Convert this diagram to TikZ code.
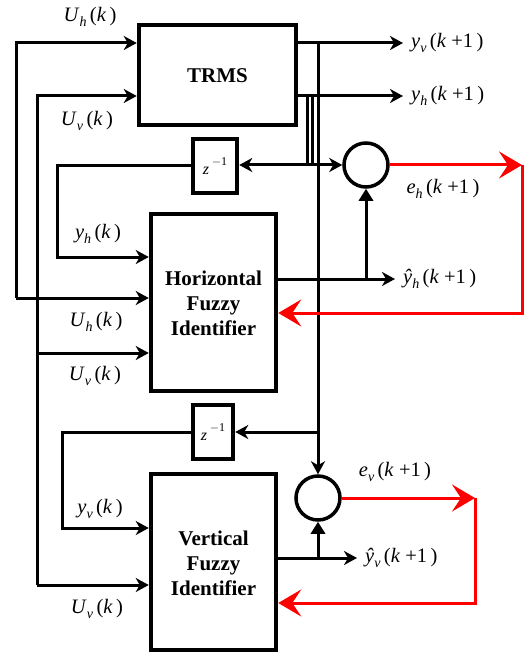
\documentclass[tikz,border=0pt]{standalone}
\usepackage{fontspec}
\setmainfont{Liberation Serif}
\usetikzlibrary{arrows.meta}
\newcommand{\sig}[3]{\textit{#1}\raisebox{-0.45ex}{\fontsize{14}{14}\selectfont\textit{#2}}\,(\textit{k}#3\,)}
\newcommand{\kp}{\ \hbox{+}1}
\begin{document}
\begin{tikzpicture}[x=1pt,y=-1pt,
  blk/.style={draw,line width=4.5pt,fill=white,inner sep=0pt},
  sumc/.style={draw,circle,line width=3.5pt,minimum size=44pt,inner sep=0pt},
  ln/.style={line width=3pt},
  arr/.style={ln,-{Stealth[length=13pt,width=14pt,inset=4pt]}},
  tri/.style={ln,-{Triangle[length=12pt,width=14pt]}},
  rln/.style={line width=3pt,red},
  rarr/.style={rln,-{Stealth[length=23pt,width=27pt,inset=9pt]}},
  lbl/.style={font=\fontsize{20.5}{20.5}\selectfont,inner sep=0pt},
  btxt/.style={font=\fontsize{21}{25}\selectfont\bfseries,align=center}]
\useasboundingbox (0,0) rectangle (531,655);
\fill[white] (0,0) rectangle (531,655);
% blocks
\node[blk,minimum width=157pt,minimum height=100pt] (trms) at (217.5,75) {};
\node[btxt] at (217.5,76) {TRMS};
\node[blk,minimum width=125pt,minimum height=177pt] (hfi) at (213.5,302.5) {};
\node[btxt] at (213.5,303) {Horizontal\\Fuzzy\\Identifier};
\node[blk,minimum width=125pt,minimum height=176pt] (vfi) at (213.5,562) {};
\node[btxt] at (213.5,563) {Vertical\\Fuzzy\\Identifier};
\node[blk,minimum width=44pt,minimum height=54pt] (z1) at (215,166) {\fontsize{16}{16}\selectfont\textit{z}\,\raisebox{1.2ex}{\fontsize{12}{12}\selectfont$-$1}};
\node[blk,minimum width=40pt,minimum height=54pt] (z2) at (213,432) {\fontsize{16}{16}\selectfont\textit{z}\,\raisebox{1.2ex}{\fontsize{12}{12}\selectfont$-$1}};
\node[sumc] (s1) at (366,165) {};
\node[sumc] (s2) at (318,498) {};
% coordinates
\coordinate (uh0) at (16,43);
\coordinate (uh1) at (16,298);
\coordinate (uv0) at (37,96);
\coordinate (uv1) at (37,353);
\coordinate (uv2) at (37,585);
\coordinate (yvo) at (403,43);
\coordinate (yho) at (403,96);
\coordinate (vtop) at (318,43);
\coordinate (vz) at (318,432);
\coordinate (htop) at (307,96);
\coordinate (hz) at (307,165);
\coordinate (yh0) at (57,166);
\coordinate (yh1) at (57,257);
\coordinate (yv0) at (62,432);
\coordinate (yv1) at (62,528);
\coordinate (hho) at (395,279);
\coordinate (hhb) at (366,279);
\coordinate (vho) at (357,558);
\coordinate (vhb) at (318,558);
\coordinate (r1a) at (522,165);
\coordinate (r1b) at (522,313);
\coordinate (r2a) at (475,498);
\coordinate (r2b) at (475,603);
% inputs
\draw[arr] (uh1) -- (uh0) -- (uh0 -| trms.west);
\draw[arr] (uh1) -- (uh1 -| hfi.west);
\draw[arr] (uv2) -- (uv0) -- (uv0 -| trms.west);
\draw[arr] (uv1) -- (uv1 -| hfi.west);
\draw[arr] (uv2) -- (uv2 -| vfi.west);
% outputs
\draw[arr] (yvo -| trms.east) -- (yvo);
\draw[arr] (yho -| trms.east) -- (yho);
\draw[ln] (vtop) -- (vz);
\draw[arr] (vz) -- (s2.north);
\draw[arr] (vz) -- (z2.east);
\draw[ln] (htop) -- (hz);
\draw[ln] (htop) ++(5,0) -- ++(0,69);
\draw[arr] (hz) -- (hz -| z1.east);
\draw[arr] (hz) -- (s1.west);
\draw[arr] (yh0 -| z1.west) -- (yh0) -- (yh1) -- (yh1 -| hfi.west);
\draw[arr] (z2.west) -- (yv0) -- (yv1) -- (yv1 -| vfi.west);
\draw[arr] (hho -| hfi.east) -- (hho);
\draw[tri] (hhb) -- (s1.south);
\draw[arr] (vho -| vfi.east) -- (vho);
\draw[tri] (vhb) -- (s2.south);
% red feedback
\draw[rarr] (s1.east) -- (r1a);
\draw[rarr] (r1a) -- (r1b) -- (r1b -| hfi.east);
\draw[rarr] (s2.east) -- (r2a);
\draw[rarr] (r2a) -- (r2b) -- (r2b -| vfi.east);
% labels
\node[lbl] at (90,17) {\sig{U}{h}{}};
\node[lbl] at (87,121) {\sig{U}{v}{}};
\node[lbl,anchor=west] at (411,43) {\sig{y}{v}{\kp}};
\node[lbl,anchor=west] at (411,96) {\sig{y}{h}{\kp}};
\node[lbl] at (443,189) {\sig{e}{h}{\kp}};
\node[lbl] at (98,234) {\sig{y}{h}{}};
\node[lbl,anchor=west] at (403,279) {\sig{ŷ}{h}{\kp}};
\node[lbl] at (96,322) {\sig{U}{h}{}};
\node[lbl] at (95,376) {\sig{U}{v}{}};
\node[lbl] at (395,472) {\sig{e}{v}{\kp}};
\node[lbl] at (100,509) {\sig{y}{v}{}};
\node[lbl,anchor=west] at (365,558) {\sig{ŷ}{v}{\kp}};
\node[lbl] at (97,609) {\sig{U}{v}{}};
\end{tikzpicture}
\end{document}
